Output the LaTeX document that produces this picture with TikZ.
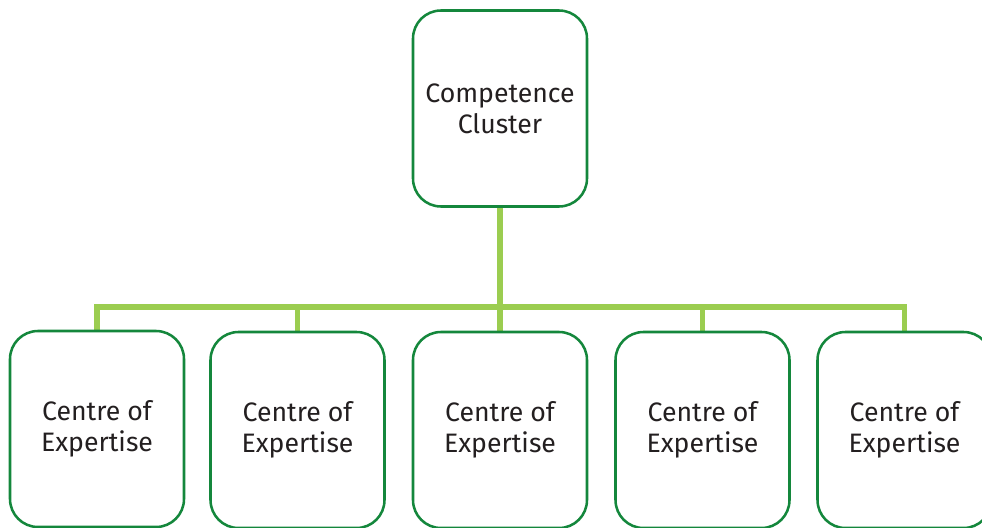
\documentclass[tikz,border=0pt]{standalone}
\usepackage{fontspec}
\setmainfont{Fira Sans}
\usetikzlibrary{backgrounds}
\definecolor{boxgreen}{RGB}{20,135,60}
\definecolor{linegreen}{RGB}{155,205,80}
\definecolor{txt}{RGB}{35,31,32}
\begin{document}
\begin{tikzpicture}[x=0.75pt,y=-0.75pt,
  box/.style={draw=boxgreen, line width=1.9pt, fill=white, rounded corners=21pt,
    minimum width=130.5pt, minimum height=147pt, inner sep=0pt, align=center,
    text=txt, font=\fontsize{20}{23.3}\selectfont},
  conn/.style={draw=linegreen, line width=3.8pt, line join=miter}]
\useasboundingbox (0,0) rectangle (982,528);
\node[box] (top) at (500,108.5) {Competence\\Cluster};
\node[box] (b1) at (97,429) {Centre of\\Expertise};
\node[box] (b2) at (297.5,430) {Centre of\\Expertise};
\node[box] (b3) at (500,430) {Centre of\\Expertise};
\node[box] (b4) at (702.5,430) {Centre of\\Expertise};
\node[box] (b5) at (904.5,430) {Centre of\\Expertise};
\coordinate (bus) at (500,307);
\begin{scope}[on background layer]
\draw[conn] (top.south) -- (b3.north);
\draw[conn] (b1.north) -- (b1.north |- bus) -- (b5.north |- bus) -- (b5.north);
\draw[conn] (b2.north) -- (b2.north |- bus);
\draw[conn] (b4.north) -- (b4.north |- bus);
\end{scope}
\end{tikzpicture}
\end{document}
